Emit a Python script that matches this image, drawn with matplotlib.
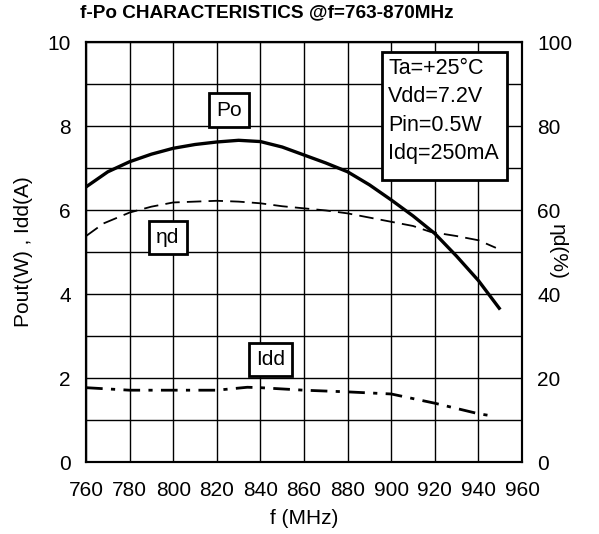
import matplotlib.pyplot as plt
import numpy as np
from matplotlib.patches import Rectangle

plt.rcParams['font.family'] = ['Liberation Sans', 'DejaVu Sans']

# data
freq_po = [760, 770, 780, 790, 800, 810, 820, 830, 840, 850, 860, 870, 880, 890, 900, 910, 920, 930, 940, 950]
po = [6.55, 6.91, 7.15, 7.33, 7.47, 7.56, 7.62, 7.66, 7.63, 7.50, 7.31, 7.12, 6.91, 6.60, 6.24, 5.86, 5.44, 4.90, 4.32, 3.63]

freq_eff = [760, 768, 780, 790, 800, 810, 820, 830, 840, 850, 860, 870, 880, 890, 900, 910, 918, 930, 940, 948]
eff = [53.8, 56.8, 59.4, 60.8, 61.8, 62.0, 62.2, 62.0, 61.6, 60.9, 60.4, 59.9, 59.2, 58.2, 57.2, 56.2, 54.8, 53.8, 52.8, 51.0]

freq_idd = [760, 780, 800, 820, 834, 840, 860, 880, 900, 920, 940, 946]
idd = [1.77, 1.71, 1.71, 1.71, 1.78, 1.77, 1.71, 1.67, 1.62, 1.40, 1.15, 1.10]

x_ticks = np.arange(760, 961, 20)
conditions = ["Ta=+25°C", "Vdd=7.2V", "Pin=0.5W", "Idq=250mA"]

fig = plt.figure(figsize=(5.99, 5.34), dpi=100)
ax = fig.add_axes([0.1436, 0.1348, 0.7279, 0.7865])
ax2 = ax.twinx()

ax.set_xlim(760, 960)
ax.set_ylim(0, 10)
ax2.set_ylim(0, 100)
ax.set_xticks(x_ticks)
ax.set_yticks(np.arange(0, 11, 2))
ax.set_yticks(np.arange(0, 11, 1), minor=True)
ax2.set_yticks(np.arange(0, 101, 20))

ax.grid(True, which='both', color='black', linewidth=1.0)
ax.set_axisbelow(True)
ax.tick_params(axis='x', length=0, labelsize=15, pad=14)
ax.tick_params(axis='y', which='both', length=0, labelsize=15, pad=11)
ax2.tick_params(length=0, labelsize=15, pad=11)
for sp in list(ax.spines.values()) + list(ax2.spines.values()):
    sp.set_linewidth(1.5)

ax.plot(freq_po, po, color='black', linewidth=2.4, solid_capstyle='butt')
ax.plot(freq_idd, idd, color='black', linewidth=2.0, linestyle=(0, (6, 3, 1.5, 3)))
ax2.plot(freq_eff, eff, color='black', linewidth=1.3, linestyle=(0, (8, 4)))

ax.set_xlabel('f (MHz)', fontsize=15, labelpad=6)
ax.set_ylabel('Pout(W) , Idd(A)', fontsize=15, labelpad=10)
ax2.set_ylabel('ηd(%)', fontsize=15, rotation=270, labelpad=-4)
fig.text(0.446, 0.977, 'f-Po CHARACTERISTICS @f=763-870MHz', fontsize=13.7,
         fontweight='bold', ha='center', va='center')

box = dict(boxstyle='square,pad=0.35', facecolor='white', edgecolor='black', linewidth=2)
ax.text(825.6, 8.38, 'Po', fontsize=15, ha='center', va='center', bbox=box, zorder=5)
ax.text(797.4, 5.35, 'ηd', fontsize=15, ha='center', va='center', bbox=box, zorder=5)
ax.text(844.6, 2.44, 'Idd', fontsize=15, ha='center', va='center', bbox=box, zorder=5)

# conditions box
ax.add_patch(Rectangle((0.679, 0.671), 0.287, 0.305, transform=ax.transAxes,
                       facecolor='white', edgecolor='black', linewidth=2, zorder=5))
for i, line in enumerate(conditions):
    ax.text(0.693, 0.938 - i * 0.068, line, transform=ax.transAxes, fontsize=15.5,
            ha='left', va='center', zorder=6)

fig.savefig('out.png', dpi=100)
